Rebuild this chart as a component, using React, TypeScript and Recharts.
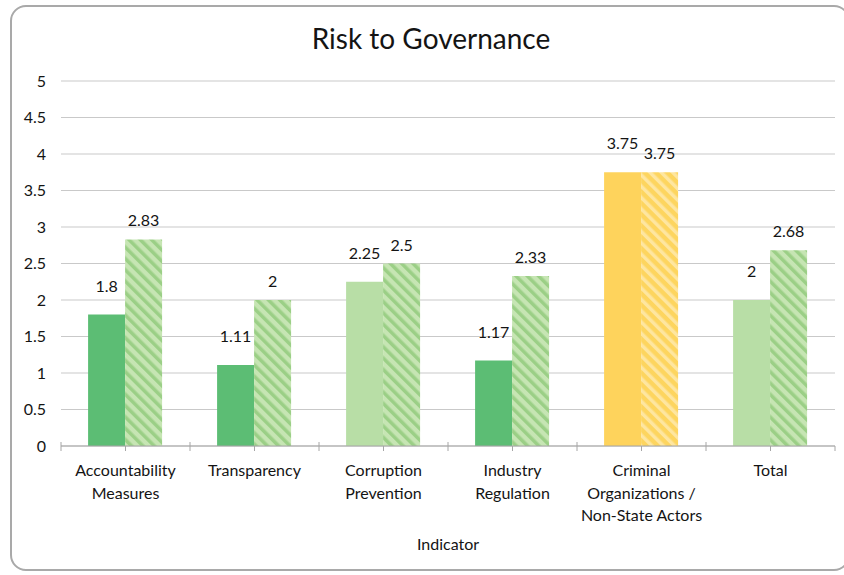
import { BarChart, Bar, XAxis, YAxis, CartesianGrid, Cell, LabelList } from "recharts";

const categories = [
  "Accountability\nMeasures",
  "Transparency",
  "Corruption\nPrevention",
  "Industry\nRegulation",
  "Criminal\nOrganizations /\nNon-State Actors",
  "Total",
];
const currentScores = [1.8, 1.11, 2.25, 1.17, 3.75, 2];
const projectedScores = [2.83, 2, 2.5, 2.33, 3.75, 2.68];
const yTicks = [0, 0.5, 1, 1.5, 2, 2.5, 3, 3.5, 4, 4.5, 5];

const data = categories.map((name, i) => ({
  name,
  current: currentScores[i],
  projected: projectedScores[i],
}));

const FONT = "Lato, 'Open Sans', sans-serif";
const TEXT = "#141414";
const CHART_W = 844;
const CHART_H = 575;
const margin = { top: 81, right: 9, left: 0, bottom: 0 };
const Y_AXIS_W = 61;
const PLOT_W = CHART_W - margin.left - margin.right - Y_AXIS_W;
const BAND = PLOT_W / categories.length;

// risk band colours: low / moderate / high
const solidFill = (v: number) => (v < 2 ? "#5cbd74" : v < 3 ? "#b8dea6" : "#fed35c");
const hatchFill = (v: number) => (v < 3 ? "url(#hatchGreen)" : "url(#hatchYellow)");

function CategoryTick({ x, y, payload, index }: any) {
  const lines = String(payload.value).split("\n");
  const edge = x - BAND / 2;
  return (
    <g>
      <line x1={edge} x2={edge} y1={y - 4} y2={y + 5} stroke="#a6a6a6" />
      <line x1={x} x2={x} y1={y} y2={y + 5} stroke="#a6a6a6" />
      {index === categories.length - 1 && (
        <line x1={x + BAND / 2} x2={x + BAND / 2} y1={y} y2={y + 5} stroke="#a6a6a6" />
      )}
      {lines.map((line, i) => (
        <text
          key={i}
          x={x}
          y={y + 30 + i * 22.5}
          textAnchor="middle"
          fontSize={16}
          fontFamily={FONT}
          fill={TEXT}
        >
          {line}
        </text>
      ))}
    </g>
  );
}

export default function App() {
  return (
    <div
      style={{
        position: "absolute",
        left: 0,
        top: 0,
        width: CHART_W,
        height: CHART_H,
        background: "#fff",
        fontFamily: FONT,
      }}
    >
      <div
        style={{
          position: "absolute",
          left: 10,
          top: 5,
          width: 840,
          height: 566,
          border: "2px solid #a9a9a9",
          borderRadius: 16,
          boxSizing: "border-box",
        }}
      />
      <div
        style={{
          position: "absolute",
          left: 0,
          top: 21,
          width: 862,
          textAlign: "center",
          fontSize: 28,
          color: TEXT,
        }}
      >
        Risk to Governance
      </div>
      <div style={{ position: "absolute", left: 0, top: 0 }}>
        <BarChart
          width={CHART_W}
          height={CHART_H}
          data={data}
          margin={margin}
          barCategoryGap="21%"
          barGap={0}
        >
          <defs>
            <pattern
              id="hatchGreen"
              patternUnits="userSpaceOnUse"
              width={8}
              height={8}
              patternTransform="rotate(-45)"
            >
              <rect width={8} height={8} fill="#c6e5b3" />
              <rect width={3.5} height={8} fill="#9bcf86" />
            </pattern>
            <pattern
              id="hatchYellow"
              patternUnits="userSpaceOnUse"
              width={8}
              height={8}
              patternTransform="rotate(-45)"
            >
              <rect width={8} height={8} fill="#fdd55f" />
              <rect width={3.5} height={8} fill="#fee6a0" />
            </pattern>
          </defs>
          <CartesianGrid vertical={false} stroke="#c9c9c9" strokeWidth={1.2} />
          <XAxis
            dataKey="name"
            interval={0}
            height={129}
            tickSize={0}
            tickMargin={0}
            tickLine={false}
            axisLine={{ stroke: "#a6a6a6", strokeWidth: 1.2 }}
            tick={<CategoryTick />}
            label={{
              value: "Indicator",
              position: "insideBottom",
              offset: 25,
              fontSize: 16,
              fontFamily: FONT,
              fill: TEXT,
            }}
          />
          <YAxis
            width={Y_AXIS_W}
            domain={[0, 5]}
            ticks={yTicks}
            interval={0}
            tickSize={0}
            tickMargin={15}
            tickLine={false}
            axisLine={false}
            tick={{ fontSize: 16, fontFamily: FONT, fill: TEXT }}
          />
          <Bar dataKey="current" isAnimationActive={false}>
            {currentScores.map((v, i) => (
              <Cell key={i} fill={solidFill(v)} />
            ))}
            <LabelList
              dataKey="current"
              position="top"
              offset={23}
              fontSize={16}
              fontFamily={FONT}
              fill={TEXT}
            />
          </Bar>
          <Bar dataKey="projected" isAnimationActive={false}>
            {projectedScores.map((v, i) => (
              <Cell key={i} fill={hatchFill(v)} />
            ))}
            <LabelList
              dataKey="projected"
              position="top"
              offset={13}
              fontSize={16}
              fontFamily={FONT}
              fill={TEXT}
            />
          </Bar>
        </BarChart>
      </div>
    </div>
  );
}
